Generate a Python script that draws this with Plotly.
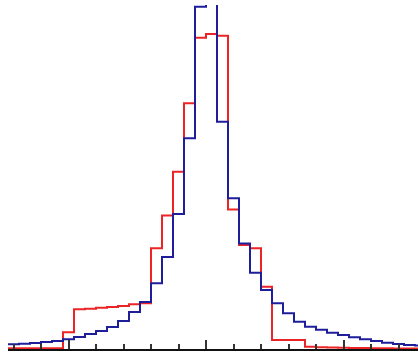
import plotly.graph_objects as go

# Bin left edges (width 0.4), from -7.2 to 7.6
bin_width = 0.4
bin_left = [round(-7.2 + i * bin_width, 2) for i in range(38)]

blue_counts = [4.7, 5.3, 6, 7, 8, 9.7, 12, 15, 18, 22, 28, 37, 47, 65.7, 92, 135,
               210.7, 342.3, 420, 227.3, 150.7, 105.5, 76.3, 59, 45.7, 35.7, 27.3,
               22.3, 19.3, 16.3, 14, 11.7, 9.7, 8, 6.3, 5, 4, 3.5]

red_counts = [0.7, 0.7, 0.7, 0.7, 0.7, 16.7, 39.7, 40.3, 41.3, 42, 43, 44.7, 45.7,
              100.7, 133.5, 177.3, 245.7, 311.3, 315, 313.3, 139.5, 104, 100.7, 62.3,
              9, 9, 9, 2.3, 1.8, 1.5, 1.2, 1.0, 0.9, 0.8, 0.7, 0.6, 0.5, 0.5]


def steps(lefts, vals):
    xs = list(lefts) + [round(lefts[-1] + bin_width, 2)]
    ys = list(vals) + [vals[-1]]
    return xs, ys


fig = go.Figure()
rx, ry = steps(bin_left, red_counts)
bx, by = steps(bin_left, blue_counts)
fig.add_trace(go.Scatter(x=rx, y=ry, mode="lines", line=dict(shape="hv", color="#ec2426", width=2),
                         showlegend=False, hoverinfo="skip"))
fig.add_trace(go.Scatter(x=bx, y=by, mode="lines", line=dict(shape="hv", color="#1e1e9a", width=2),
                         showlegend=False, hoverinfo="skip"))

fig.update_layout(
    width=418, height=353,
    margin=dict(l=8, r=0, t=5, b=4),
    paper_bgcolor="white", plot_bgcolor="white",
    xaxis=dict(range=[-7.2, 7.709], showgrid=False, zeroline=False,
               showline=True, linecolor="#111111", linewidth=2,
               ticks="inside", ticklen=9, tickwidth=2, tickcolor="#333333",
               tick0=0, dtick=5, showticklabels=False,
               minor=dict(ticks="inside", ticklen=5, tickwidth=2, tickcolor="#333333",
                          dtick=1, tick0=0, showgrid=False)),
    yaxis=dict(range=[0, 344], visible=False, showgrid=False, zeroline=False),
)

fig.write_html("out.html",
               config={"displayModeBar": False, "staticPlot": True},
               post_script="document.body.style.margin='0';document.body.style.overflow='hidden';")
